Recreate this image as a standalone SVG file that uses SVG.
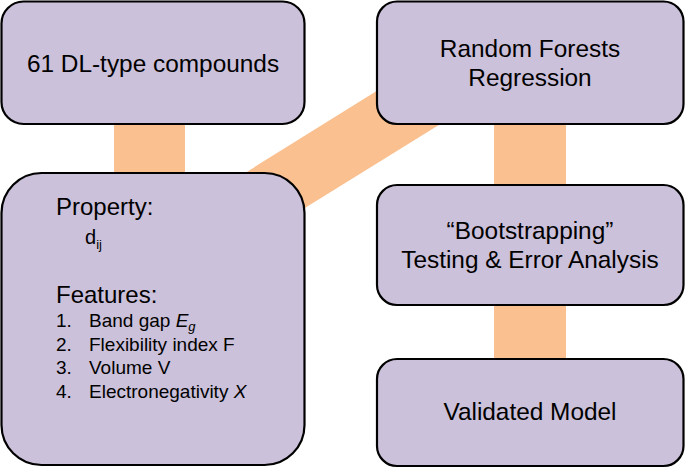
<svg xmlns="http://www.w3.org/2000/svg" width="685" height="468" viewBox="0 0 685 468">
<style>
.box{fill:#CCC1DA;stroke:#000;stroke-width:2.2}
.band{fill:#FAC090}
text{font-family:"Liberation Sans",Arial,sans-serif;fill:#000}
.t{font-size:24.4px;text-anchor:middle}
.h{font-size:24px}
.l{font-size:19px}
</style>
<g id="connectors">
<rect class="band" x="114" y="110" width="71" height="80"/>
<rect class="band" x="494" y="110" width="72" height="90"/>
<rect class="band" x="494" y="290" width="72" height="85"/>
<polygon class="band" points="200,201 420,64 480,99.5 250,242"/>
</g>
<g id="compounds">
<rect class="box" x="1.5" y="1.5" width="303" height="122.5" rx="22"/>
<text class="t" x="153" y="72">61 DL-type compounds</text>
</g>
<g id="rf">
<rect class="box" x="377" y="1.5" width="306.5" height="122.5" rx="20"/>
<text class="t" x="530" y="57">Random Forests</text>
<text class="t" x="530" y="86">Regression</text>
</g>
<g id="features">
<rect class="box" x="1.5" y="173" width="303" height="292" rx="40"/>
<text class="h" x="56" y="215">Property:</text>
<text x="85" y="244" font-size="20px">d<tspan font-size="13px" dy="5">ij</tspan></text>
<text class="h" x="56" y="303">Features:</text>
<text class="l" x="56" y="327">1.</text><text class="l" x="89" y="327">Band gap <tspan font-style="italic">E</tspan><tspan font-style="italic" font-size="13px" dy="4">g</tspan></text>
<text class="l" x="56" y="350.5">2.</text><text class="l" x="89" y="350.5">Flexibility index F</text>
<text class="l" x="56" y="374">3.</text><text class="l" x="89" y="374">Volume V</text>
<text class="l" x="56" y="397.5">4.</text><text class="l" x="89" y="397.5">Electronegativity <tspan font-style="italic">X</tspan></text>
</g>
<g id="bootstrap">
<rect class="box" x="377" y="185" width="306.5" height="120" rx="20"/>
<text class="t" x="530" y="239">“Bootstrapping”</text>
<text class="t" x="530" y="268">Testing &amp; Error Analysis</text>
</g>
<g id="validated">
<rect class="box" x="377" y="359" width="306.5" height="107" rx="20"/>
<text class="t" x="530" y="420">Validated Model</text>
</g>
</svg>
